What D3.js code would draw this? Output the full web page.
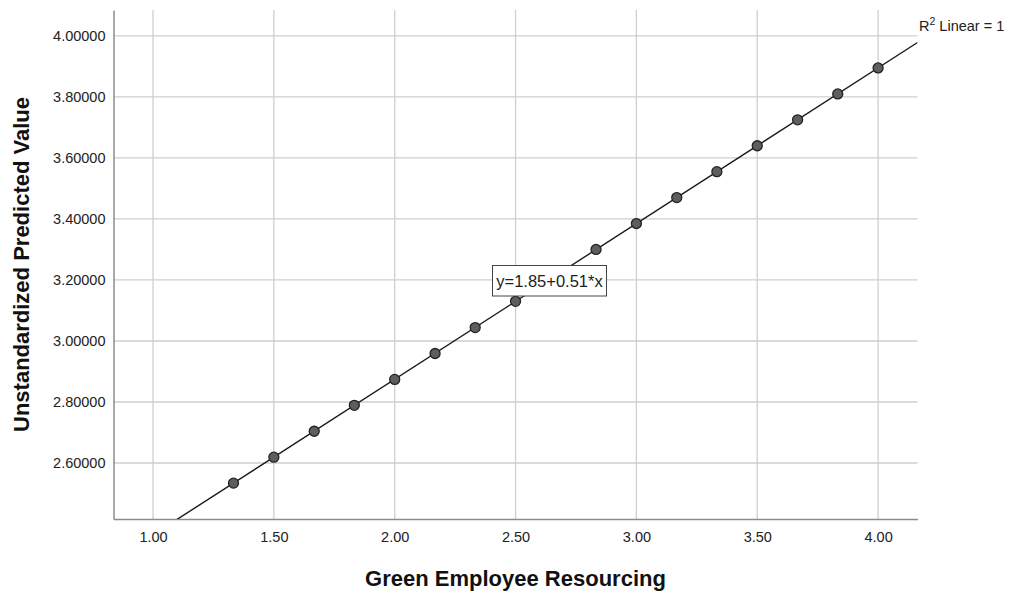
<!DOCTYPE html>
<html>
<head>
<meta charset="utf-8">
<script src="https://cdn.jsdelivr.net/npm/d3@7"></script>
<style>
  body { margin: 0; background: #fff; }
  svg { display: block; font-family: 'Liberation Sans', Arial, sans-serif; }
</style>
</head>
<body>
<div id="chart"></div>
<script>
// scatter points: Green Employee Resourcing vs predicted value
const xValues = [1.333, 1.5, 1.667, 1.833, 2.0, 2.167, 2.333, 2.5, 2.833, 3.0, 3.167, 3.333, 3.5, 3.667, 3.833, 4.0]
const yValues = [2.534, 2.619, 2.704, 2.789, 2.874, 2.959, 3.044, 3.130, 3.300, 3.385, 3.470, 3.555, 3.640, 3.725, 3.810, 3.895]
const xTicks = [1.0, 1.5, 2.0, 2.5, 3.0, 3.5, 4.0]
const yTicks = [2.6, 2.8, 3.0, 3.2, 3.4, 3.6, 3.8, 4.0]
const fitIntercept = 1.854
const fitSlope = 0.5103

const W = 1009
const H = 592
const margin = { left: 113.5, right: 91.5, top: 10, bottom: 73 }

const svg = d3.select('#chart')
  .append('svg')
  .attr('width', W)
  .attr('height', H)

const x = d3.scaleLinear()
  .domain([0.8366, 4.163])
  .range([margin.left, W - margin.right])

const y = d3.scaleLinear()
  .domain([2.4164, 4.085])
  .range([H - margin.bottom, margin.top])

// gridlines
svg.append('g')
  .selectAll('line')
  .data(xTicks)
  .join('line')
  .attr('x1', (d) => x(d))
  .attr('x2', (d) => x(d))
  .attr('y1', y.range()[1])
  .attr('y2', y.range()[0])
  .style('stroke', '#cfcfcf')
  .style('stroke-width', 1.3)

svg.append('g')
  .selectAll('line')
  .data(yTicks)
  .join('line')
  .attr('x1', x.range()[0])
  .attr('x2', x.range()[1])
  .attr('y1', (d) => y(d))
  .attr('y2', (d) => y(d))
  .style('stroke', '#cfcfcf')
  .style('stroke-width', 1.3)

// axes
const xAxis = svg.append('g')
  .attr('transform', `translate(0,${y.range()[0]})`)
  .call(d3.axisBottom(x).tickValues(xTicks).tickSize(0).tickPadding(13).tickFormat(d3.format('.2f')))
const yAxis = svg.append('g')
  .attr('transform', `translate(${x.range()[0]},0)`)
  .call(d3.axisLeft(y).tickValues(yTicks).tickSize(0).tickPadding(8).tickFormat(d3.format('.5f')))

for (const ax of [xAxis, yAxis]) {
  ax.select('.domain').style('stroke', '#8c8c8c').style('stroke-width', 1.5)
  ax.selectAll('text')
    .style('font-size', '14.5px')
    .style('font-family', "'Liberation Sans', Arial, sans-serif")
    .style('fill', '#222')
}

// fit line, clipped to plot area
svg.append('clipPath')
  .attr('id', 'plotclip')
  .append('rect')
  .attr('x', x.range()[0])
  .attr('y', y.range()[1])
  .attr('width', x.range()[1] - x.range()[0])
  .attr('height', y.range()[0] - y.range()[1])

const fitX = x.domain()
svg.append('line')
  .attr('clip-path', 'url(#plotclip)')
  .attr('x1', x(fitX[0]))
  .attr('y1', y(fitIntercept + fitSlope * fitX[0]))
  .attr('x2', x(fitX[1]))
  .attr('y2', y(fitIntercept + fitSlope * fitX[1]))
  .style('stroke', '#1a1a1a')
  .style('stroke-width', 1.4)

// points
svg.append('g')
  .selectAll('circle')
  .data(xValues.map((v, i) => ({ x: v, y: yValues[i] })))
  .join('circle')
  .attr('cx', (d) => x(d.x))
  .attr('cy', (d) => y(d.y))
  .attr('r', 5)
  .style('fill', '#5e5e5e')
  .style('stroke', '#222')
  .style('stroke-width', 1.3)

// equation label
const eq = svg.append('g').attr('transform', 'translate(549.5,280.5)')
eq.append('rect')
  .attr('x', -57)
  .attr('y', -15)
  .attr('width', 114)
  .attr('height', 30.5)
  .style('fill', '#fff')
  .style('stroke', '#444')
  .style('stroke-width', 1)
eq.append('text')
  .attr('text-anchor', 'middle')
  .attr('y', 6.5)
  .style('font-size', '16.5px')
  .style('fill', '#222')
  .text('y=1.85+0.51*x')

// R squared label
const r2 = svg.append('text')
  .attr('x', 919)
  .attr('y', 31)
  .style('font-size', '14.5px')
  .style('fill', '#222')
r2.append('tspan').text('R')
r2.append('tspan').attr('dy', -6).style('font-size', '10.5px').text('2')
r2.append('tspan').attr('dy', 6).text(' Linear = 1')

// axis titles
svg.append('text')
  .attr('x', (x.range()[0] + x.range()[1]) / 2)
  .attr('y', 586)
  .attr('text-anchor', 'middle')
  .style('font-size', '22px')
  .style('font-weight', 'bold')
  .style('fill', '#111')
  .text('Green Employee Resourcing')

svg.append('text')
  .attr('transform', `translate(29,${(y.range()[0] + y.range()[1]) / 2}) rotate(-90)`)
  .attr('text-anchor', 'middle')
  .style('font-size', '22px')
  .style('font-weight', 'bold')
  .style('fill', '#111')
  .text('Unstandardized Predicted Value')
</script>
</body>
</html>
